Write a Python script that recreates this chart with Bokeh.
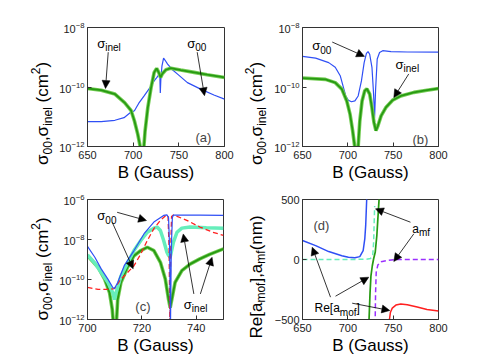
import math
from bokeh.plotting import figure
from bokeh.layouts import column, row
from bokeh.models import Label, Arrow, NormalHead
from bokeh.embed import file_html
from bokeh.resources import INLINE

# ---------------- data ----------------
# panel (a)
a_B00 = [650, 665, 680, 690, 697, 701.4, 706, 712, 718, 723, 726, 728.6, 729.2, 729.7, 730.3,
         731.5, 733.3, 735, 737.7, 743, 748.6, 759.4, 773.9, 788.4, 800]
a_s00 = [6.9e-12, 6.9e-12, 7.6e-12, 9.3e-12, 1.38e-11, 1.6e-11, 2.8e-11, 5.0e-11, 9.1e-11, 1.6e-10,
         2.1e-10, 2.7e-10, 2.4e-10, 6.3e-11, 1.8e-10, 5.0e-10, 9.3e-10, 7.9e-10, 5.9e-10, 3.8e-10,
         2.7e-10, 1.4e-10, 8.5e-11, 5.4e-11, 3.9e-11]
a_Binel = [650, 665, 680, 690.6, 697.8, 701.4, 705, 708, 709.5, 710.5, 711.5, 713, 716, 719.6, 723,
           725.7, 728, 730, 732, 735.9, 741.3, 752, 766.7, 781, 800]
a_sinel = [8.9e-11, 7.8e-11, 5.8e-11, 3.0e-11, 1.6e-11, 7.2e-12, 2.6e-12, 8.9e-13, 2.5e-13, 2.5e-13,
           7.9e-13, 3.2e-12, 2.0e-11, 9.5e-11, 3.1e-10, 4.2e-10, 3.1e-10, 2.1e-10, 2.8e-10, 3.8e-10,
           4.3e-10, 3.7e-10, 3.1e-10, 2.6e-10, 2.1e-10]

# panel (b)
b_B00 = [650, 664.5, 678.9, 686.1, 691.6, 695.2, 697.7, 700.6, 704, 707.8, 711.4, 715, 718, 720.5,
         722.3, 724.1, 726.6, 728.4, 729.5, 730.6, 732.4, 735, 738.5, 747.6, 765.6, 800]
b_s00 = [1.07e-9, 9.3e-10, 6.6e-10, 4.6e-10, 2.4e-10, 9.5e-11, 5.0e-11, 3.6e-11, 3.2e-11, 3.4e-11,
         5.0e-11, 1.6e-10, 6.6e-10, 1.35e-9, 1.55e-9, 1.26e-9, 4.6e-10, 5.8e-11, 9.3e-12, 7.9e-11,
         8.7e-10, 1.45e-9, 1.66e-9, 1.55e-9, 1.5e-9, 1.48e-9]
b_Binel = [650, 675.3, 686.1, 693.4, 698.8, 702.4, 705.3, 707.8, 709.5, 710.5, 711.6, 713.2, 715.7,
           718.6, 721, 724.1, 726.6, 728.8, 731, 733.1, 736.7, 742.2, 749.4, 758.4, 772.9, 787.3, 800]
b_sinel = [2.0e-10, 1.8e-10, 1.4e-10, 8.5e-11, 3.4e-11, 1.23e-11, 3.4e-12, 8.9e-13, 2.5e-13, 2.5e-13,
           1.26e-12, 7.2e-12, 3.4e-11, 7.4e-11, 8.7e-11, 5.8e-11, 2.0e-11, 6.5e-12, 3.4e-12, 4.9e-12,
           1.07e-11, 2.1e-11, 3.6e-11, 5.0e-11, 6.6e-11, 7.8e-11, 8.9e-11]

# panel (c)
c_B00 = [700, 702.7, 705.1, 707.5, 709.3, 709.9, 711.1, 713.5, 717.1, 720.8, 724.4, 728, 729.2,
         729.8, 730.2, 730.5, 730.8, 731.2, 731.6, 741.3, 750]
c_s00 = [4.5e-9, 1.3e-9, 3.3e-10, 1.05e-10, 4.0e-11, 3.5e-11, 7.1e-11, 4.9e-10, 2.8e-9, 1.95e-8,
         7.4e-8, 1.6e-7, 1.7e-7, 1.26e-7, 3.2e-9, 3.2e-13, 3.2e-9, 1.26e-7, 1.66e-7, 1.66e-7, 1.6e-7]
c_B00b = [700, 703.9, 707.5, 709.9, 712.3, 714.7, 717.1, 719.6, 722, 724.4, 726.8, 728.6, 729.6,
          730.0, 730.3, 730.6, 730.9, 731.6, 736.5, 741.3, 746.1, 750]
c_s00b = [4.0e-11, 3.2e-11, 3.2e-11, 3.5e-11, 1.05e-10, 2.2e-10, 4.9e-10, 1.9e-9, 8.9e-9, 3.5e-8,
          9.1e-8, 1.5e-7, 1.6e-7, 3.2e-9, 3.2e-13, 3.2e-9, 1.4e-7, 1.7e-7, 9.1e-8, 4.2e-8, 2.3e-8, 1.6e-8]
c_Binelb = [700, 702.7, 705.1, 707.5, 709.3, 709.9, 710.5, 712.3, 714.7, 717.1, 719.6, 722, 724.4,
            725.6, 726.8, 728, 729.2, 729.8, 730.4, 731.6, 732.9, 734.7, 737.7, 743.7, 750]
c_sinelb = [1.7e-9, 6.6e-10, 2.2e-10, 7.1e-11, 2.2e-11, 1.0e-11, 2.2e-11, 1.5e-10, 6.6e-10, 2.8e-9,
            8.9e-9, 2.3e-8, 3.7e-8, 4.2e-8, 2.8e-8, 8.9e-9, 2.3e-9, 1.6e-9, 1.3e-9, 7.4e-9, 2.3e-8,
            3.7e-8, 4.2e-8, 3.9e-8, 3.7e-8]
c_Binel = [700, 703.9, 706.3, 708.1, 709.1, 709.7, 710.5, 711.1, 712.3, 714.7, 717.1, 719.6, 722,
           724.4, 726.8, 728.6, 729.8, 730.4, 731, 732.2, 734.7, 737.7, 741.3, 744.9, 750]
c_sinel = [1.55e-9, 4.1e-10, 1.05e-10, 2.2e-11, 3.2e-12, 3.2e-13, 3.2e-13, 1.0e-11, 7.1e-11, 4.1e-10,
           1.55e-9, 2.8e-9, 4.1e-9, 2.8e-9, 7.2e-10, 1.05e-10, 1.0e-11, 3.9e-12, 1.0e-11, 7.1e-11,
           2.8e-10, 5.9e-10, 1.07e-9, 1.8e-9, 3.4e-9]

# panel (d)
d_Bmof1 = [650, 664.5, 678.9, 693.4, 700.6, 707.8, 713.2, 716.9, 718.7, 719.7, 720.8, 721.3]
d_amof1 = [158, 116, 66, 32, 18, 15, 24, 74, 172, 284, 500, 620]
d_Bmof2 = [745.5, 747, 749, 753, 758.4, 765.6, 776.5, 787.3, 800]
d_amof2 = [-520, -440, -405, -380, -371, -377, -396, -416, -430]
d_Bmf1 = [650, 700, 720, 725, 727.5, 728.5, 729.2, 729.6]
d_amf1 = [0, 0, 2, 8, 40, 150, 350, 445]
d_Bmf2 = [723.3, 724.5, 725.5, 727.0, 728.4, 730.2, 732.0, 733.8, 734.8]
d_amf2 = [-520, -276, -136, -52, 4, 60, 200, 424, 540]
d_Bmf3 = [730.1, 730.6, 731.3, 733.1, 736.7, 744, 751.2, 800]
d_amf3 = [-540, -276, -108, -46, -18, -7, -1, 0]

# tick labels
x_ticks_wide = [650, 700, 750, 800]
x_ticks_c = [700, 720, 740]
y_ticks_ab = [1e-12, 1e-10, 1e-8]
y_ticks_c = [1e-12, 1e-10, 1e-8, 1e-6]
y_ticks_d = [-500, 0, 500]

# ---------------- styling helpers ----------------
FONT = "Liberation Sans"
BLUE = "#2f4ff5"
GREEN_DARK = "#279a12"
GREEN_HALO = "#74cc55"
AQUA = "#66eebb"
RED = "#ff2020"
PURPLE = "#9b30ff"

CW = {' ': .278, '(': .333, ')': .333, ',': .278, '[': .278, ']': .278, 'a': .556, 'c': .5,
      'e': .556, 'f': .278, 'i': .222, 'l': .222, 'm': .833, 'n': .556, 'o': .556, 'R': .722,
      'σ': .62}


def tw(s, size):
    return sum(CW.get(ch, 0.556) for ch in s) * size


def make_fig(xr, yr, ytype, fw, fh, bl, br, bt, bb, xt, yt):
    p = figure(title=None, frame_width=fw, frame_height=fh, x_range=xr, y_range=yr,
               y_axis_type=ytype, output_backend="svg", toolbar_location=None,
               min_border_left=bl, min_border_right=br, min_border_top=bt, min_border_bottom=bb)
    p.xgrid.visible = False
    p.ygrid.visible = False
    p.outline_line_color = "#333333"
    p.background_fill_color = "white"
    p.border_fill_color = "white"
    for ax in (p.xaxis[0], p.yaxis[0]):
        ax.major_tick_in = 4
        ax.major_tick_out = 0
        ax.minor_tick_line_color = None
        ax.major_label_text_font = FONT
        ax.major_label_text_font_size = "11px"
        ax.major_label_text_color = "#222222"
        ax.axis_line_color = "#333333"
        ax.major_tick_line_color = "#333333"
    p.xaxis.ticker = xt
    p.yaxis.ticker = yt
    p.yaxis.major_label_standoff = 3
    p.xaxis.major_label_standoff = 4
    p.xaxis.axis_label = "B (Gauss)"
    p.xaxis.axis_label_text_font = FONT
    p.xaxis.axis_label_text_font_size = "17px"
    p.xaxis.axis_label_text_font_style = "normal"
    p.xaxis.axis_label_text_color = "black"
    p.xaxis.axis_label_standoff = 1
    return p


def ylabel_fig(w, h, parts, x_base, y_start):
    """A narrow axis-free figure that carries one rotated, composed y-axis title."""
    f = figure(title=None, frame_width=w, frame_height=h, x_range=(0, w), y_range=(0, h),
               output_backend="svg", toolbar_location=None,
               x_axis_location=None, y_axis_location=None,
               min_border_left=0, min_border_right=0, min_border_top=0, min_border_bottom=0)
    f.grid.visible = False
    f.outline_line_color = None
    f.background_fill_color = "white"
    f.border_fill_color = "white"
    adv = 0.0
    for text, size, shift in parts:
        if text.strip():
            f.add_layout(Label(x=x_base + shift, y=y_start + adv, text=text, angle=math.pi / 2,
                               text_font=FONT, text_font_size=f"{size}px",
                               text_baseline="alphabetic", text_align="left", text_color="black"))
        adv += tw(text, size)
    return f


def rich(p, x, y, parts):
    adv = 0.0
    for text, size, shift in parts:
        p.add_layout(Label(x=x, y=y, x_offset=adv, y_offset=-shift, text=text,
                           text_font=FONT, text_font_size=f"{size}px",
                           text_baseline="alphabetic", text_align="left", text_color="black"))
        adv += tw(text, size)


def arrow(p, x0, y0, x1, y1):
    p.add_layout(Arrow(end=NormalHead(size=8, fill_color="black", line_color="black", line_width=0.5),
                       x_start=x0, y_start=y0, x_end=x1, y_end=y1,
                       line_color="black", line_width=0.8))


def thick_green(p, xs, ys):
    p.line(xs, ys, line_color=GREEN_HALO, line_width=3.6)
    p.line(xs, ys, line_color=GREEN_DARK, line_width=1.8)


YLAB_SIG = [("σ", 17, 0), ("00", 12, 5), (",σ", 17, 0), ("inel", 12, 5), (" ", 17, 0),
            ("(cm", 17, 0), ("2", 12, -7), (")", 17, 0)]
YLAB_D = [("Re[a", 17, 0), ("mof", 12, 5), ("],a", 17, 0), ("mf", 12, 5), ("(nm)", 17, 0)]
S_INEL = [("σ", 13, 0), ("inel", 10, 4)]
S_00 = [("σ", 13, 0), ("00", 10, 4)]

# ---------------- panel (a) ----------------
pa = make_fig((650, 800), (1e-12, 1e-8), "log", 137, 119, 33, 14, 27, 40, x_ticks_wide, y_ticks_ab)
pa.line(a_B00, a_s00, line_color=BLUE, line_width=1.2)
thick_green(pa, a_Binel, a_sinel)
rich(pa, 660.6, 2.9e-9, S_INEL)
rich(pa, 759.2, 2.9e-9, S_00)
pa.add_layout(Label(x=768.2, y=2.0e-12, text="(a)", text_font=FONT, text_font_size="13px",
                    text_baseline="alphabetic"))
arrow(pa, 672.7, 1.48e-9, 669.7, 8.9e-11)
arrow(pa, 770.1, 1.48e-9, 778.1, 5.1e-11)
ya = ylabel_fig(54, 186, YLAB_SIG, 42, 48.5)

# ---------------- panel (b) ----------------
pb = make_fig((650, 800), (1e-12, 1e-8), "log", 136, 119, 32, 15, 27, 40, x_ticks_wide, y_ticks_ab)
pb.line(b_B00, b_s00, line_color=BLUE, line_width=1.2)
thick_green(pb, b_Binel, b_sinel)
rich(pb, 660.7, 2.45e-9, S_00)
rich(pb, 752.6, 5.75e-10, S_INEL)
pb.add_layout(Label(x=771.3, y=1.74e-12, text="(b)", text_font=FONT, text_font_size="13px",
                    text_baseline="alphabetic"))
arrow(pb, 682.8, 3.24e-9, 718.4, 1.07e-9)
arrow(pb, 767.2, 2.75e-10, 750.7, 4.4e-11)
yb = ylabel_fig(32, 186, YLAB_SIG, 18, 48.5)

# ---------------- panel (c) ----------------
pc = make_fig((700, 750), (1e-12, 1e-6), "log", 136, 120, 33, 15, 13, 40, x_ticks_c, y_ticks_c)
thick_green(pc, c_Binel, c_sinel)
pc.line(c_Binelb, c_sinelb, line_color=AQUA, line_width=3.5)
pc.line(c_B00b, c_s00b, line_color=RED, line_width=1.3, line_dash="5 3")
pc.line(c_B00, c_s00, line_color=BLUE, line_width=1.2)
rich(pc, 703.6, 1.58e-7, S_00)
rich(pc, 735.4, 5.4e-12, S_INEL)
pc.add_layout(Label(x=717.6, y=4.5e-12, text="(c)", text_font=FONT, text_font_size="13px",
                    text_baseline="alphabetic"))
arrow(pc, 710.9, 2.29e-7, 721.7, 8.9e-8)
arrow(pc, 709.1, 7.2e-8, 716.8, 3.4e-10)
arrow(pc, 739.1, 1.9e-11, 735.2, 1.9e-8)
arrow(pc, 741.5, 1.9e-11, 745.8, 1.29e-9)
yc = ylabel_fig(54, 173, YLAB_SIG, 42, 52)

# ---------------- panel (d) ----------------
pd = make_fig((650, 800), (-500, 500), "linear", 136, 120, 32, 15, 13, 40, x_ticks_wide, y_ticks_d)
pd.line(d_Bmf1, d_amf1, line_color=AQUA, line_width=1.5, line_dash="5 3")
pd.line(d_Bmf3, d_amf3, line_color=PURPLE, line_width=1.5, line_dash="5 3")
pd.line(d_Bmof1, d_amof1, line_color=BLUE, line_width=1.5)
pd.line(d_Bmof2, d_amof2, line_color=RED, line_width=1.5)
pd.line(d_Bmf2, d_amf2, line_color=GREEN_DARK, line_width=1.7)
rich(pd, 771.0, 258, [("a", 12, 0), ("mf", 10, 4)])
rich(pd, 663.2, -406, [("Re[a", 12, 0), ("mof", 10, 4), ("]", 12, 0)])
pd.add_layout(Label(x=662.1, y=283, text="(d)", text_font=FONT, text_font_size="13px",
                    text_baseline="alphabetic"))
arrow(pd, 769.1, 310.8, 730.5, 422.5)
arrow(pd, 772.8, 214.2, 750.7, -16.7)
arrow(pd, 680.9, -314, 660.7, 102.5)
arrow(pd, 686.4, -305.8, 723.1, -147.5)
arrow(pd, 704.8, -364, 746.3, -425)
yd = ylabel_fig(32, 173, YLAB_D, 17.5, 34)

layout = column(row(ya, pa, yb, pb), row(yc, pc, yd, pd))
open("out.html", "w").write(file_html(layout, INLINE))
